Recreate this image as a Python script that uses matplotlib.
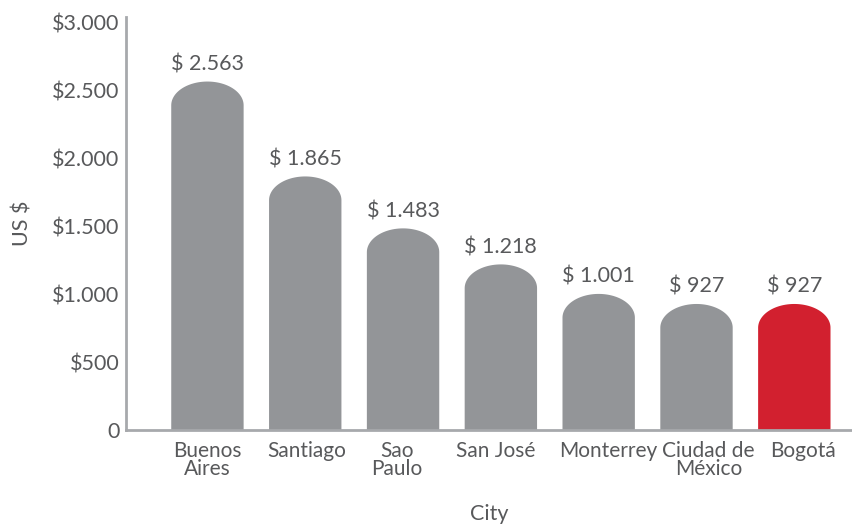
import numpy as np
import matplotlib.pyplot as plt
from matplotlib.patches import Polygon
from matplotlib.transforms import ScaledTranslation

plt.rcParams['font.family'] = ['Lato', 'DejaVu Sans']

# Monthly cost per city (US $)
cities = ['Buenos\nAires', 'Santiago', 'Sao\nPaulo', 'San José', 'Monterrey',
          'Ciudad de\nMéxico', 'Bogotá']
costs = [2563, 1865, 1483, 1218, 1001, 927, 927]
value_labels = ['$ 2.563', '$ 1.865', '$ 1.483', '$ 1.218', '$ 1.001', '$ 927', '$ 927']
yticks = [0, 500, 1000, 1500, 2000, 2500, 3000]
ytick_labels = ['0', '$500', '$1.000', '$1.500', '$2.000', '$2.500', '$3.000']

GREY = '#939598'
RED = '#D2202F'
TEXT = '#58595B'
AXIS = '#A7A9AC'

fig = plt.figure(figsize=(8.53, 5.26), dpi=100)
ax = fig.add_axes([0.148, 0.1825, 0.852, 0.785])

bar_w = 0.74
dome_h = 175  # height of the rounded cap, data units
x = np.arange(len(cities))
colors = [GREY] * (len(cities) - 1) + [RED]

theta = np.linspace(np.pi, 0, 60)
for xi, h, c, lab in zip(x, costs, colors, value_labels):
    x0, x1 = xi - bar_w / 2, xi + bar_w / 2
    base = h - dome_h
    arc_x = xi + (bar_w / 2) * np.cos(theta)
    arc_y = base + dome_h * np.sin(theta)
    pts = [(x0, 0), (x0, base)] + list(zip(arc_x, arc_y)) + [(x1, base), (x1, 0)]
    ax.add_patch(Polygon(pts, closed=True, facecolor=c, edgecolor='none'))
    ax.annotate(lab, (xi, h), xytext=(0, 8), textcoords='offset points',
                ha='center', va='baseline', fontsize=15.5, color=TEXT)

ax.set_xlim(-0.83, 6.6)
ax.set_ylim(0, 3037)
ax.set_xticks(x)
ax.set_xticklabels(cities, fontsize=15, color=TEXT, linespacing=0.85)
ax.set_yticks(yticks)
ax.set_yticklabels(ytick_labels, fontsize=15.5, color=TEXT)
ax.tick_params(axis='both', length=0)
ax.tick_params(axis='x', pad=8)
ax.tick_params(axis='y', pad=5)

# nudge category labels sideways (pixels) so neighbours keep a gap
label_shift = [0, 1, -6, -5, 10, 12, 9]
for tl, dx in zip(ax.get_xticklabels(), label_shift):
    tl.set_transform(tl.get_transform() + ScaledTranslation(dx / 100, 0, fig.dpi_scale_trans))

for side in ['top', 'right']:
    ax.spines[side].set_visible(False)
for side in ['left', 'bottom']:
    ax.spines[side].set_color(AXIS)
    ax.spines[side].set_linewidth(2)

ax.set_xlabel('City', fontsize=15.5, color=TEXT, labelpad=18)
ax.set_ylabel('US $', fontsize=15.5, color=TEXT, labelpad=14)

fig.savefig('out.png', dpi=100)
